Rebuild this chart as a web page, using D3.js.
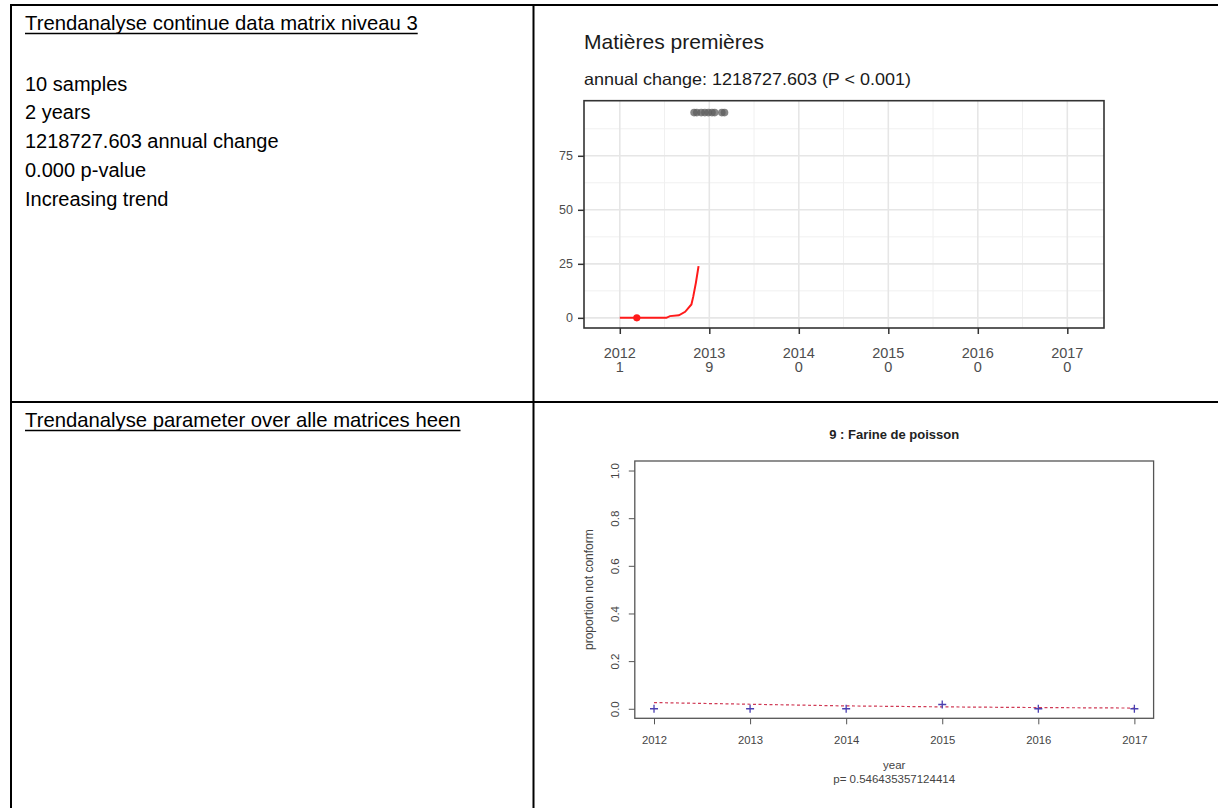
<!DOCTYPE html>
<html>
<head>
<meta charset="utf-8">
<script src="https://cdn.jsdelivr.net/npm/d3@7"></script>
<style>
  body { margin: 0; background: #fff; }
  svg { display: block; font-family: "Liberation Sans", Arial, sans-serif; }
</style>
</head>
<body>
<svg id="page" width="1218" height="808"></svg>
<script>
// left column texts
const headerTop = "Trendanalyse continue data matrix niveau 3";
const headerBottom = "Trendanalyse parameter over alle matrices heen";
const summaryLines = ["10 samples", "2 years", "1218727.603 annual change", "0.000 p-value", "Increasing trend"];

// top chart
const topTitle = "Matières premières";
const topSubtitle = "annual change: 1218727.603 (P < 0.001)";
const years = [2012, 2013, 2014, 2015, 2016, 2017];
const samplesPerYear = [1, 9, 0, 0, 0, 0];
const yTicksTop = [0, 25, 50, 75];
const trendYear = [2012.0, 2012.52, 2012.56, 2012.66, 2012.73, 2012.80, 2012.82, 2012.85, 2012.88];
const trendValue = [0, 0, 0.8, 1.2, 2.8, 6.2, 9.7, 16.2, 23.9];
const obsYear = [2012.19];
const obsValue = [0];
const highYear = [2012.83, 2012.86, 2012.91, 2012.95, 2012.99, 2013.03, 2013.06, 2013.14, 2013.17];
const highValue = [95, 95, 95, 95, 95, 95, 95, 95, 95];

// bottom chart
const bottomTitle = "9 : Farine de poisson";
const propValue = [0, 0, 0, 0.018, 0, 0];
const fitValue = [0.026, 0.019, 0.012, 0.008, 0.005, 0.003];
const yTicksBottom = [0, 0.2, 0.4, 0.6, 0.8, 1.0];
const pLabel = "p= 0.546435357124414";

const svg = d3.select("#page");

// ---- table grid
const grid = svg.append("g").attr("stroke", "#000").attr("stroke-width", 2);
grid.append("line").attr("x1", 11).attr("x2", 11).attr("y1", 4).attr("y2", 808);
grid.append("line").attr("x1", 10).attr("x2", 1218).attr("y1", 5).attr("y2", 5);
grid.append("line").attr("x1", 533.5).attr("x2", 533.5).attr("y1", 4).attr("y2", 808);
grid.append("line").attr("x1", 10).attr("x2", 1218).attr("y1", 402).attr("y2", 402);

// ---- left texts
function underlined(text, y) {
  const t = svg.append("text").attr("x", 25).attr("y", y)
    .attr("font-size", 20.3).attr("fill", "#000").text(text);
  const w = t.node().getComputedTextLength();
  svg.append("line").attr("x1", 25).attr("x2", 25 + w)
    .attr("y1", y + 4).attr("y2", y + 4)
    .attr("stroke", "#000").attr("stroke-width", 1.4);
}
underlined(headerTop, 29.5);
underlined(headerBottom, 426.5);

svg.append("g").selectAll("text").data(summaryLines).join("text")
  .attr("x", 25).attr("y", (d, i) => 90.5 + i * 28.8)
  .attr("font-size", 20).attr("fill", "#000")
  .text(d => d);

// ---- top chart
const xT = d3.scaleLinear().domain([2011.6, 2017.41]).range([584, 1104]);
const yT = d3.scaleLinear().domain([-4.7, 100.5]).range([328, 100.7]);
const gT = svg.append("g");

gT.append("text").attr("x", 584).attr("y", 49).attr("font-size", 21)
  .attr("fill", "#1a1a1a").attr("textLength", 180).attr("lengthAdjust", "spacingAndGlyphs")
  .text(topTitle);
gT.append("text").attr("x", 584).attr("y", 85).attr("font-size", 16.5)
  .attr("fill", "#1a1a1a").attr("textLength", 327).attr("lengthAdjust", "spacingAndGlyphs")
  .text(topSubtitle);

const minorX = years.slice(0, -1).map(y => y + 0.5);
const minorY = yTicksTop.map(v => v + 12.5);
const [px0, px1] = xT.range();
const [py0, py1] = yT.range();

gT.append("g").selectAll("line").data(minorX).join("line")
  .attr("x1", d => xT(d)).attr("x2", d => xT(d)).attr("y1", py0).attr("y2", py1)
  .attr("stroke", "#f0f0f0").attr("stroke-width", 1);
gT.append("g").selectAll("line").data(minorY).join("line")
  .attr("x1", px0).attr("x2", px1).attr("y1", d => yT(d)).attr("y2", d => yT(d))
  .attr("stroke", "#f0f0f0").attr("stroke-width", 1);
gT.append("g").selectAll("line").data(years).join("line")
  .attr("x1", d => xT(d)).attr("x2", d => xT(d)).attr("y1", py0).attr("y2", py1)
  .attr("stroke", "#e6e6e6").attr("stroke-width", 1.6);
gT.append("g").selectAll("line").data(yTicksTop).join("line")
  .attr("x1", px0).attr("x2", px1).attr("y1", d => yT(d)).attr("y2", d => yT(d))
  .attr("stroke", "#e6e6e6").attr("stroke-width", 1.6);

// high sample points
gT.append("g").selectAll("circle").data(highYear).join("circle")
  .attr("cx", d => xT(d)).attr("cy", (d, i) => yT(highValue[i])).attr("r", 3.8)
  .attr("fill", "#5e5e5e").attr("fill-opacity", 0.75);

// trend line
const trendLine = d3.line().x(d => xT(d[0])).y(d => yT(d[1]));
gT.append("path").datum(d3.zip(trendYear, trendValue))
  .attr("d", trendLine).attr("fill", "none")
  .attr("stroke", "#ff1a1a").attr("stroke-width", 2);
gT.append("g").selectAll("circle").data(obsYear).join("circle")
  .attr("cx", d => xT(d)).attr("cy", (d, i) => yT(obsValue[i])).attr("r", 3.6)
  .attr("fill", "#ff1a1a");

gT.append("rect").attr("x", px0).attr("y", py1)
  .attr("width", px1 - px0).attr("height", py0 - py1)
  .attr("fill", "none").attr("stroke", "#333").attr("stroke-width", 1.6);

const axLT = gT.append("g").attr("transform", `translate(${px0},0)`)
  .call(d3.axisLeft(yT).tickValues(yTicksTop).tickSize(6).tickPadding(5));
axLT.select(".domain").remove();
axLT.selectAll(".tick line").attr("stroke", "#333").attr("stroke-width", 1.5);
axLT.selectAll(".tick text").attr("fill", "#4d4d4d").attr("font-size", 12.5)
  .attr("font-family", "Liberation Sans, Arial, sans-serif");

const axBT = gT.append("g").attr("transform", `translate(0,${py0})`)
  .call(d3.axisBottom(xT).tickValues(years).tickSize(6).tickFormat(""));
axBT.select(".domain").remove();
axBT.selectAll(".tick line").attr("stroke", "#333").attr("stroke-width", 1.5);

const xLab = gT.append("g").selectAll("text").data(years).join("text")
  .attr("x", d => xT(d)).attr("y", 358)
  .attr("text-anchor", "middle").attr("font-size", 14.5).attr("fill", "#4d4d4d");
xLab.append("tspan").attr("x", d => xT(d)).text(d => d);
xLab.append("tspan").attr("x", d => xT(d)).attr("dy", 14)
  .text((d, i) => samplesPerYear[i]);

// ---- bottom chart
const xB = d3.scaleLinear().domain([2011.8, 2017.2]).range([634.8, 1153.6]);
const yB = d3.scaleLinear().domain([-0.04, 1.04]).range([718.3, 461]);
const gB = svg.append("g");
const [bx0, bx1] = xB.range();
const [by0, by1] = yB.range();

gB.append("text").attr("x", (bx0 + bx1) / 2).attr("y", 439)
  .attr("text-anchor", "middle").attr("font-size", 13).attr("font-weight", "bold")
  .attr("fill", "#222").text(bottomTitle);

gB.append("rect").attr("x", bx0).attr("y", by1)
  .attr("width", bx1 - bx0).attr("height", by0 - by1)
  .attr("fill", "none").attr("stroke", "#555").attr("stroke-width", 1.3);

const axLB = gB.append("g").attr("transform", `translate(${bx0},0)`)
  .call(d3.axisLeft(yB).tickValues(yTicksBottom).tickSize(6).tickFormat(d3.format(".1f")));
axLB.select(".domain").remove();
axLB.selectAll(".tick line").attr("stroke", "#555");
axLB.selectAll(".tick text")
  .attr("transform", "rotate(-90)").attr("x", 0).attr("y", -16).attr("dy", null)
  .attr("text-anchor", "middle").attr("font-size", 11.5).attr("fill", "#444")
  .attr("font-family", "Liberation Sans, Arial, sans-serif");

const axBB = gB.append("g").attr("transform", `translate(0,${by0})`)
  .call(d3.axisBottom(xB).tickValues(years).tickSize(6).tickFormat(d3.format("d")));
axBB.select(".domain").remove();
axBB.selectAll(".tick line").attr("stroke", "#555");
axBB.selectAll(".tick text").attr("y", 0).attr("dy", 26)
  .attr("font-size", 11.3).attr("fill", "#444")
  .attr("font-family", "Liberation Sans, Arial, sans-serif");

gB.append("text")
  .attr("transform", `translate(593,${(by0 + by1) / 2}) rotate(-90)`)
  .attr("text-anchor", "middle").attr("font-size", 12).attr("fill", "#444")
  .text("proportion not conform");
gB.append("text").attr("x", (bx0 + bx1) / 2).attr("y", 769)
  .attr("text-anchor", "middle").attr("font-size", 11.5).attr("fill", "#444").text("year");
gB.append("text").attr("x", (bx0 + bx1) / 2).attr("y", 783)
  .attr("text-anchor", "middle").attr("font-size", 11.5).attr("fill", "#444").text(pLabel);

// fitted trend (dashed)
gB.append("path").datum(d3.zip(years, fitValue))
  .attr("d", d3.line().x(d => xB(d[0])).y(d => yB(d[1])))
  .attr("fill", "none").attr("stroke", "#d03a55").attr("stroke-width", 1.2)
  .attr("stroke-dasharray", "3,2.5");

// observed proportions (+)
gB.append("g").selectAll("path").data(d3.zip(years, propValue)).join("path")
  .attr("transform", d => `translate(${xB(d[0])},${yB(d[1])})`)
  .attr("d", "M-4,0H4M0,-4V4")
  .attr("stroke", "#4a3fb0").attr("stroke-width", 1.3).attr("fill", "none");
</script>
</body>
</html>
